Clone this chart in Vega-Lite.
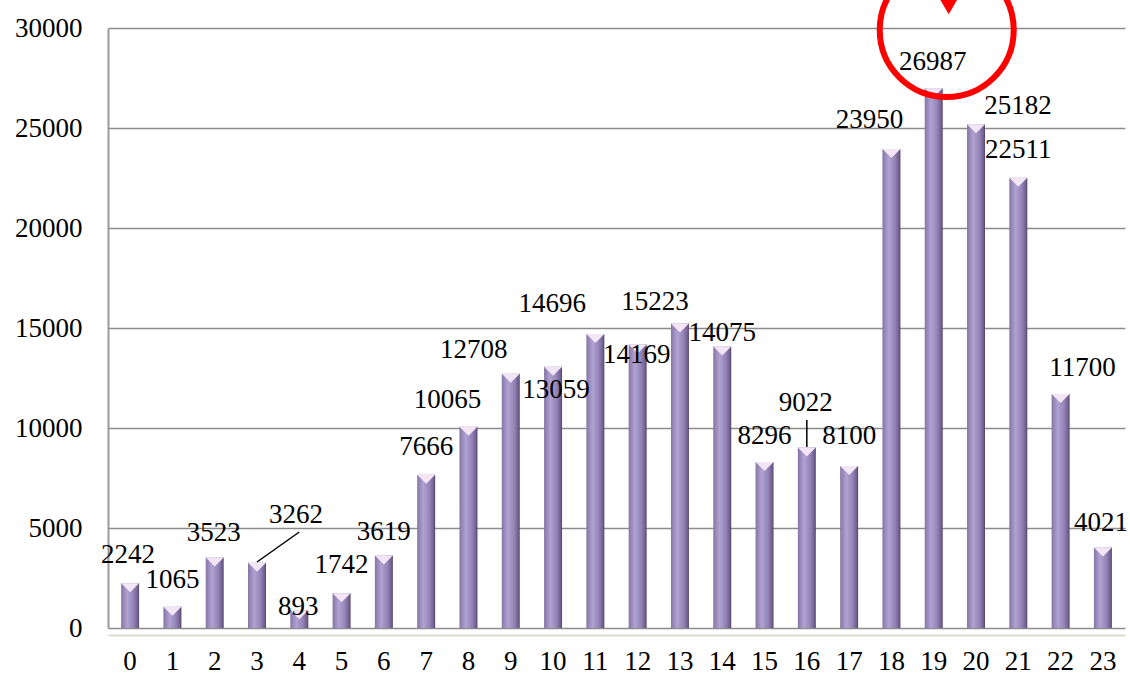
{
  "$schema": "https://vega.github.io/schema/vega-lite/v6.json",
  "autosize": {"type": "none"},
  "width": 1017,
  "height": 600,
  "padding": {"left": 108, "top": 28, "right": 5, "bottom": 45},
  "background": "white",
  "config": {"view": {"stroke": null}},
  "data": {
    "values": [
      {"hour": 0, "count": 2242}, {"hour": 1, "count": 1065}, {"hour": 2, "count": 3523},
      {"hour": 3, "count": 3262}, {"hour": 4, "count": 893}, {"hour": 5, "count": 1742},
      {"hour": 6, "count": 3619}, {"hour": 7, "count": 7666}, {"hour": 8, "count": 10065},
      {"hour": 9, "count": 12708}, {"hour": 10, "count": 13059}, {"hour": 11, "count": 14696},
      {"hour": 12, "count": 14169}, {"hour": 13, "count": 15223}, {"hour": 14, "count": 14075},
      {"hour": 15, "count": 8296}, {"hour": 16, "count": 9022}, {"hour": 17, "count": 8100},
      {"hour": 18, "count": 23950}, {"hour": 19, "count": 26987}, {"hour": 20, "count": 25182},
      {"hour": 21, "count": 22511}, {"hour": 22, "count": 11700}, {"hour": 23, "count": 4021}
    ]
  },
  "encoding": {
    "x": {
      "field": "hour", "type": "ordinal",
      "scale": {"paddingInner": 0.575, "paddingOuter": 0.31},
      "axis": {
        "title": null, "labelAngle": 0, "ticks": false, "offset": 7,
        "domainColor": "#dcdccc", "domainWidth": 2,
        "labelFont": "Liberation Serif", "labelFontSize": 27, "labelColor": "#000",
        "labelPadding": 13
      }
    },
    "y": {
      "field": "count", "type": "quantitative",
      "scale": {"domain": [0, 30000], "nice": false},
      "axis": {
        "title": null, "values": [0, 5000, 10000, 15000, 20000, 25000, 30000], "format": "d",
        "ticks": false, "domainColor": "#999999", "domainWidth": 2,
        "gridColor": "#8c8c8c", "gridWidth": 1.5,
        "labelFont": "Liberation Serif", "labelFontSize": 27, "labelColor": "#000",
        "labelPadding": 26
      }
    }
  },
  "layer": [
    {
      "mark": {
        "type": "bar",
        "color": {
          "gradient": "linear", "x1": 0, "x2": 1, "y1": 0, "y2": 0,
          "stops": [
            {"offset": 0, "color": "#8576a6"},
            {"offset": 0.35, "color": "#b0a2d2"},
            {"offset": 0.7, "color": "#9383b6"},
            {"offset": 0.92, "color": "#6f5f8e"},
            {"offset": 1, "color": "#4e4066"}
          ]
        }
      }
    },
    {
      "mark": {
        "type": "point", "filled": true, "shape": "M-1,-0.5L1,-0.5L0,0.5Z",
        "size": 324, "color": "#f3e4f6", "opacity": 1, "yOffset": 4.5
      }
    },
    {
      "mark": {
        "type": "text", "font": "Liberation Serif", "fontSize": 27, "color": "#000",
        "baseline": "middle", "align": "center",
        "dx": {"expr": "[-2,0,-1,39,-1,0,0,0,-21,-37,3,-43,-1,-25,0,0,-1,0,-22,-1,42,0,22,-2][datum.hour]"},
        "dy": {"expr": "[-28,-27,-25,-48,-3,-28,-24,-28,-27,-24,23,-30,10,-22,-14,-26,-45,-30,-29,-26,-18,-28,-26,-25][datum.hour]"}
      },
      "encoding": {"text": {"field": "count", "type": "quantitative", "format": "d"}}
    },
    {
      "transform": [{"filter": "datum.hour == 3"}],
      "mark": {"type": "rule", "color": "#000", "strokeWidth": 1.5},
      "encoding": {
        "y": {"datum": 3300, "type": "quantitative"},
        "x2": {"datum": 4},
        "y2": {"datum": 4800}
      }
    },
    {
      "transform": [{"filter": "datum.hour == 16"}],
      "mark": {"type": "rule", "color": "#000", "strokeWidth": 1.5},
      "encoding": {
        "y": {"datum": 9050, "type": "quantitative"},
        "y2": {"datum": 10400}
      }
    },
    {
      "transform": [{"filter": "datum.hour == 19"}],
      "mark": {
        "type": "point", "shape": "circle", "filled": false, "size": 17956,
        "stroke": "#ff0000", "strokeWidth": 6, "xOffset": 13, "opacity": 1
      },
      "encoding": {"y": {"datum": 29900, "type": "quantitative"}}
    },
    {
      "transform": [{"filter": "datum.hour == 19"}],
      "mark": {
        "type": "point", "shape": "M-1,-0.85L1,-0.85L0,0.85Z", "filled": true, "size": 576,
        "color": "#ff0000", "xOffset": 15, "opacity": 1
      },
      "encoding": {"y": {"datum": 31200, "type": "quantitative"}}
    }
  ]
}
